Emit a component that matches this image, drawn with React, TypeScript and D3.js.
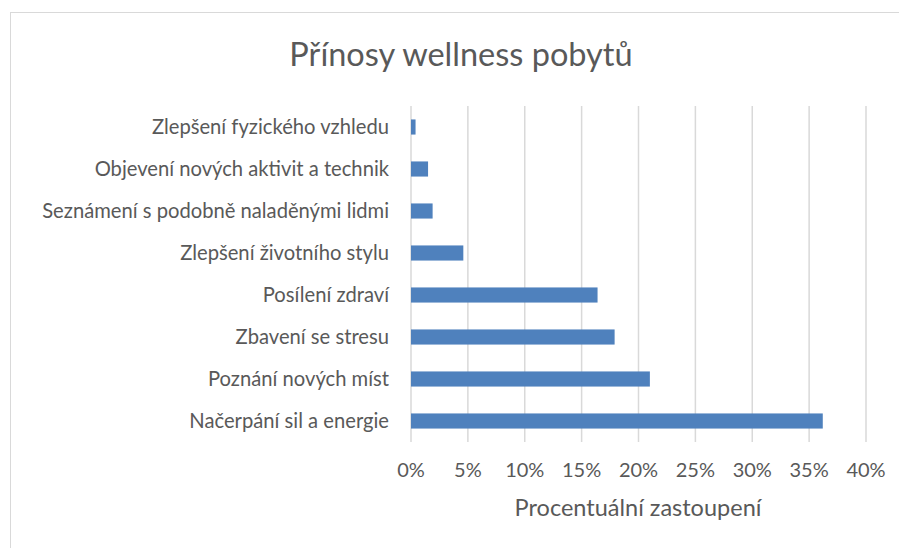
import React, { useEffect, useRef } from "react";
import * as d3 from "d3";

const categories = [
  "Zlepšení fyzického vzhledu",
  "Objevení nových aktivit a technik",
  "Seznámení s podobně naladěnými lidmi",
  "Zlepšení životního stylu",
  "Posílení zdraví",
  "Zbavení se stresu",
  "Poznání nových míst",
  "Načerpání sil a energie",
];
const values = [0.4, 1.5, 1.9, 4.6, 16.4, 17.9, 21.0, 36.2];
const ticks = [0, 5, 10, 15, 20, 25, 30, 35, 40];
const title = "Přínosy wellness pobytů";
const xTitle = "Procentuální zastoupení";

const W = 899;
const H = 548;
const FONT = "Lato, 'Open Sans', sans-serif";

export default function App() {
  const ref = useRef<SVGSVGElement>(null);
  useEffect(() => {
    const svg = d3.select(ref.current);
    svg.selectAll("*").remove();
    const x = d3.scaleLinear().domain([0, 40]).range([411, 866]);
    const y = d3.scaleBand().domain(categories).range([106, 442]).paddingInner(0.64).paddingOuter(0.32);

    svg.append("rect").attr("x", 10.5).attr("y", 12.5).attr("width", 1000).attr("height", 1000)
      .attr("fill", "#fff").attr("stroke", "#d9d9d9").attr("stroke-width", 1);

    svg.append("text").attr("x", 461).attr("y", 55).attr("dy", "0.35em").attr("text-anchor", "middle")
      .attr("font-family", FONT).attr("font-size", 32.5).attr("fill", "#595959").text(title);

    svg.append("g").selectAll("line").data(ticks).join("line")
      .attr("x1", d => x(d)).attr("x2", d => x(d)).attr("y1", 106).attr("y2", 442)
      .attr("stroke", "#d9d9d9").attr("stroke-width", 1.5);

    svg.append("g").selectAll("rect").data(values).join("rect")
      .attr("x", x(0)).attr("y", (d, i) => y(categories[i])!)
      .attr("width", d => x(d) - x(0)).attr("height", y.bandwidth())
      .attr("fill", "#4f81bd");

    svg.append("g").selectAll("text").data(categories).join("text")
      .attr("x", 389).attr("y", d => y(d)! + y.bandwidth() / 2).attr("dy", "0.35em")
      .attr("text-anchor", "end").attr("font-family", FONT).attr("font-size", 20.2)
      .attr("fill", "#595959").text(d => d);

    svg.append("g").selectAll("text").data(ticks).join("text")
      .attr("x", d => x(d)).attr("y", 470).attr("dy", "0.35em")
      .attr("text-anchor", "middle").attr("font-family", FONT).attr("font-size", 20)
      .attr("fill", "#595959").text(d => `${d}%`);

    svg.append("text").attr("x", 638).attr("y", 508).attr("dy", "0.35em").attr("text-anchor", "middle")
      .attr("font-family", FONT).attr("font-size", 23.5).attr("fill", "#595959").text(xTitle);
  }, []);
  return (
    <svg ref={ref} width={W} height={H} style={{ position: "absolute", left: 0, top: 0, background: "#fff" }} />
  );
}
